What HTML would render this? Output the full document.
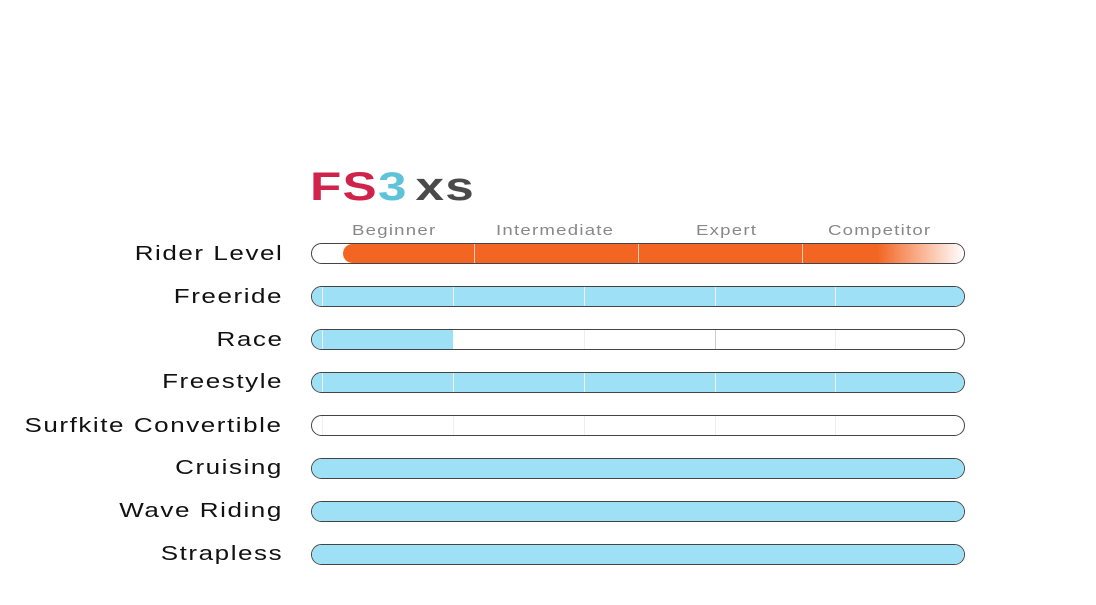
<html><head><style>
body{margin:0;width:1096px;height:605px;background:#fff;position:relative;overflow:hidden;font-family:"Liberation Sans",sans-serif}
.l{position:absolute;right:813px;font-size:20px;letter-spacing:1.2px;color:#111;line-height:22px;transform:scaleX(1.3);transform-origin:right center;white-space:nowrap}
.b{position:absolute;left:311px;width:652px;height:19px;border:1px solid #444;border-radius:11px;overflow:hidden;background:#fff}
.f{position:absolute;top:0;bottom:0;left:0;background:#9ee0f6}
.d{position:absolute;top:0;bottom:0;width:1px;background:#eee}
.t{position:absolute;top:222px;font-size:15px;color:#888;letter-spacing:1px;transform:scaleX(1.24);transform-origin:left center;white-space:nowrap}
</style></head><body>
<div style="position:absolute;left:310px;top:165px;font-size:40px;font-weight:bold;letter-spacing:1px;transform:scaleX(1.28);transform-origin:left center;white-space:nowrap"><span style="color:#d0234b">FS</span><span style="color:#5ec3d9">3</span><span style="color:#4a4a4a;margin-left:6px">xs</span></div>
<div class="t" style="left:352px">Beginner</div><div class="t" style="left:496px">Intermediate</div><div class="t" style="left:696px">Expert</div><div class="t" style="left:828px">Competitor</div>
<div class="l" style="top:243px">Rider Level</div>
<div class="b" style="top:243px"><div class="f" style="left:31px;width:621px;border-radius:11px 0 0 11px;background:linear-gradient(90deg,#f26522 0,#f26522 86%,#fff 100%)"></div>
<div class="d" style="left:162px;background:#fcb"></div><div class="d" style="left:326px;background:#fcb"></div><div class="d" style="left:490px;background:#fcb"></div></div>
<div class="l" style="top:286px">Freeride</div><div class="b" style="top:286px"><div class="f" style="width:100%"></div><div class="d" style="left:10px"></div><div class="d" style="left:141px"></div><div class="d" style="left:272px"></div><div class="d" style="left:403px"></div><div class="d" style="left:523px"></div></div>
<div class="l" style="top:329px">Race</div><div class="b" style="top:329px"><div class="f" style="width:141px"></div><div class="d" style="left:10px"></div><div class="d" style="left:272px"></div><div class="d" style="left:403px;background:#ccc"></div><div class="d" style="left:523px"></div></div>
<div class="l" style="top:371px">Freestyle</div><div class="b" style="top:372px"><div class="f" style="width:100%"></div><div class="d" style="left:10px"></div><div class="d" style="left:141px"></div><div class="d" style="left:272px"></div><div class="d" style="left:403px"></div><div class="d" style="left:523px"></div></div>
<div class="l" style="top:415px">Surfkite Convertible</div><div class="b" style="top:415px"><div class="d" style="left:10px"></div><div class="d" style="left:141px"></div><div class="d" style="left:272px"></div><div class="d" style="left:403px"></div><div class="d" style="left:523px"></div></div>
<div class="l" style="top:457px">Cruising</div><div class="b" style="top:458px"><div class="f" style="width:100%"></div></div>
<div class="l" style="top:500px">Wave Riding</div><div class="b" style="top:501px"><div class="f" style="width:100%"></div></div>
<div class="l" style="top:543px">Strapless</div><div class="b" style="top:544px"><div class="f" style="width:100%"></div></div>
</body></html>
